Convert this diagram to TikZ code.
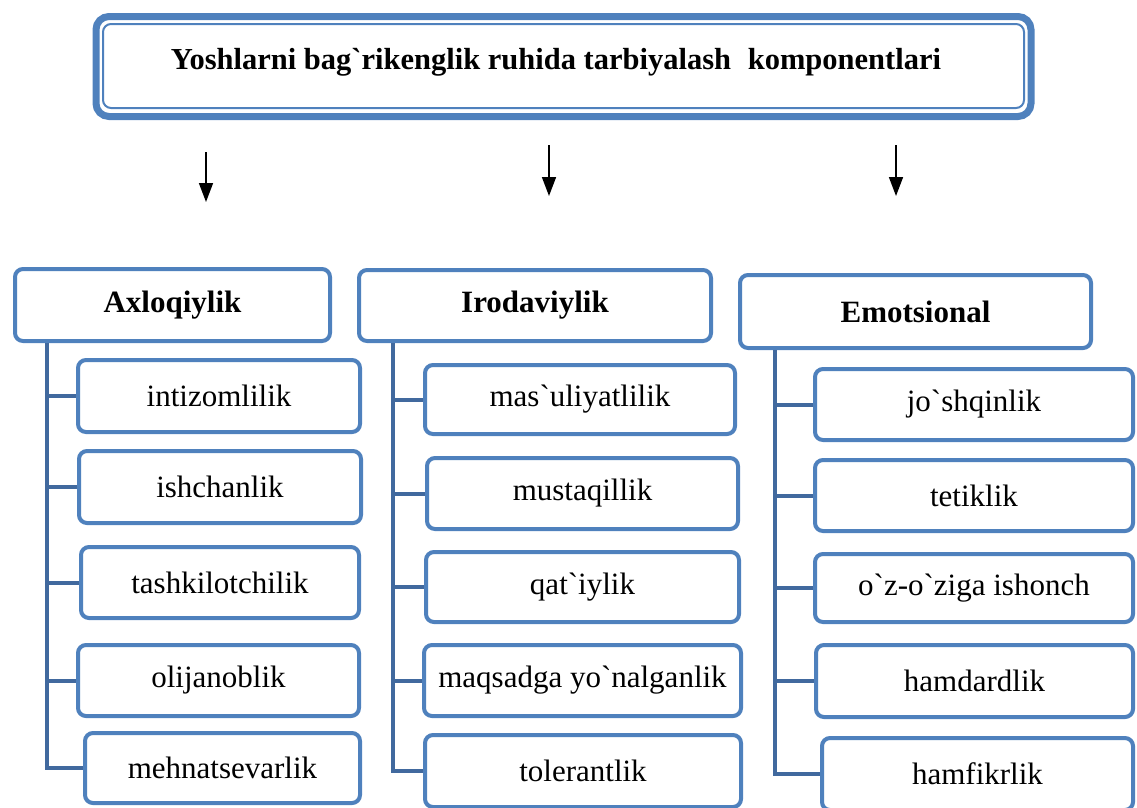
\documentclass[tikz,border=0pt]{standalone}
\usepackage{fontspec}
\setmainfont{Liberation Serif}
\usetikzlibrary{arrows.meta}
\definecolor{boxblue}{HTML}{4F81BD}
\definecolor{linkblue}{HTML}{41699E}
\newcommand\bq{\textasciigrave}
\begin{document}
\begin{tikzpicture}[x=1pt,y=-1pt,
  catbox/.style={draw=boxblue, line width=4pt, rounded corners=8pt, fill=white,
    font=\fontsize{31}{36}\selectfont\bfseries, inner sep=0pt},
  itembox/.style={draw=boxblue, line width=4pt, rounded corners=8pt, fill=white,
    font=\fontsize{31}{36}\selectfont, inner sep=0pt},
  sz/.style 2 args={minimum width=#1pt, minimum height=#2pt},
  conn/.style={draw=linkblue, line width=4pt},
  arr/.style={draw=black, line width=1.6pt, -{Triangle[width=14pt,length=19pt]}}]
\useasboundingbox (0,0) rectangle (1137,807);
\clip (0,0) rectangle (1137,807);

% title frame
\node[draw=boxblue, line width=7pt, rounded corners=13pt, sz={935}{100}, inner sep=0pt] (title) at (563.5,66.5) {};
\node[draw=boxblue, line width=2pt, rounded corners=8pt, sz={921}{84}, inner sep=0pt] (titlein) at (563.5,66) {};
\node[font=\fontsize{30.5}{36}\selectfont\bfseries, inner sep=0pt] (titletext) at (556,62)
  {Yoshlarni bag\bq rikenglik ruhida tarbiyalash\hspace{0.3em} komponentlari};

% arrows
\coordinate (ar1s) at (206,152); \coordinate (ar1e) at (206,202);
\coordinate (ar2s) at (549,145); \coordinate (ar2e) at (549,196);
\coordinate (ar3s) at (896,145); \coordinate (ar3e) at (896,196);
\draw[arr] (ar1s) -- (ar1e);
\draw[arr] (ar2s) -- (ar2e);
\draw[arr] (ar3s) -- (ar3e);

% connector columns
\coordinate (vL) at (47,0);
\coordinate (vM) at (393,0);
\coordinate (vR) at (775,0);

% category boxes
\node[catbox, sz={315}{72}] (ax) at (172.5,305) {Axloqiylik};
\node[catbox, sz={352}{71}] (ir) at (535,305.5) {Irodaviylik};
\node[catbox, sz={351}{73}] (em) at (915.5,311.5) {Emotsional};

% left column items
\node[itembox, sz={282}{72}] (a1) at (219,396) {intizomlilik};
\node[itembox, sz={282}{72}] (a2) at (220,487) {ishchanlik};
\node[itembox, sz={278}{71}] (a3) at (220,582.5) {tashkilotchilik};
\node[itembox, sz={281}{71}] (a4) at (218.5,680.5) {olijanoblik};
\node[itembox, sz={275}{70}] (a5) at (222.5,768) {mehnatsevarlik};

% middle column items
\node[itembox, sz={310}{69}] (b1) at (580,399.5) {mas\bq uliyatlilik};
\node[itembox, sz={311}{71}] (b2) at (582.5,493.5) {mustaqillik};
\node[itembox, sz={313}{70}] (b3) at (582.5,587) {qat\bq iylik};
\node[itembox, sz={317}{71}] (b4) at (582.5,680.5) {maqsadga yo\bq nalganlik};
\node[itembox, sz={316}{72}] (b5) at (583,771) {tolerantlik};

% right column items
\node[itembox, sz={318}{71}] (c1) at (974,404.5) {jo\bq shqinlik};
\node[itembox, sz={318}{71}] (c2) at (974,495.5) {tetiklik};
\node[itembox, sz={318}{68}] (c3) at (974,588) {o\bq z-o\bq ziga ishonch};
\node[itembox, sz={317}{72}] (c4) at (974.5,681) {hamdardlik};
\node[itembox, sz={311}{72}] (c5) at (977.5,774) {hamfikrlik};

% connectors
\draw[conn] (ax.south -| vL) |- (a5.west);
\foreach \n in {a1,a2,a3,a4} \draw[conn] (vL |- \n.west) -- (\n.west);
\draw[conn] (ir.south -| vM) |- (b5.west);
\foreach \n in {b1,b2,b3,b4} \draw[conn] (vM |- \n.west) -- (\n.west);
\draw[conn] (em.south -| vR) |- (c5.west);
\foreach \n in {c1,c2,c3,c4} \draw[conn] (vR |- \n.west) -- (\n.west);
\end{tikzpicture}
\end{document}
